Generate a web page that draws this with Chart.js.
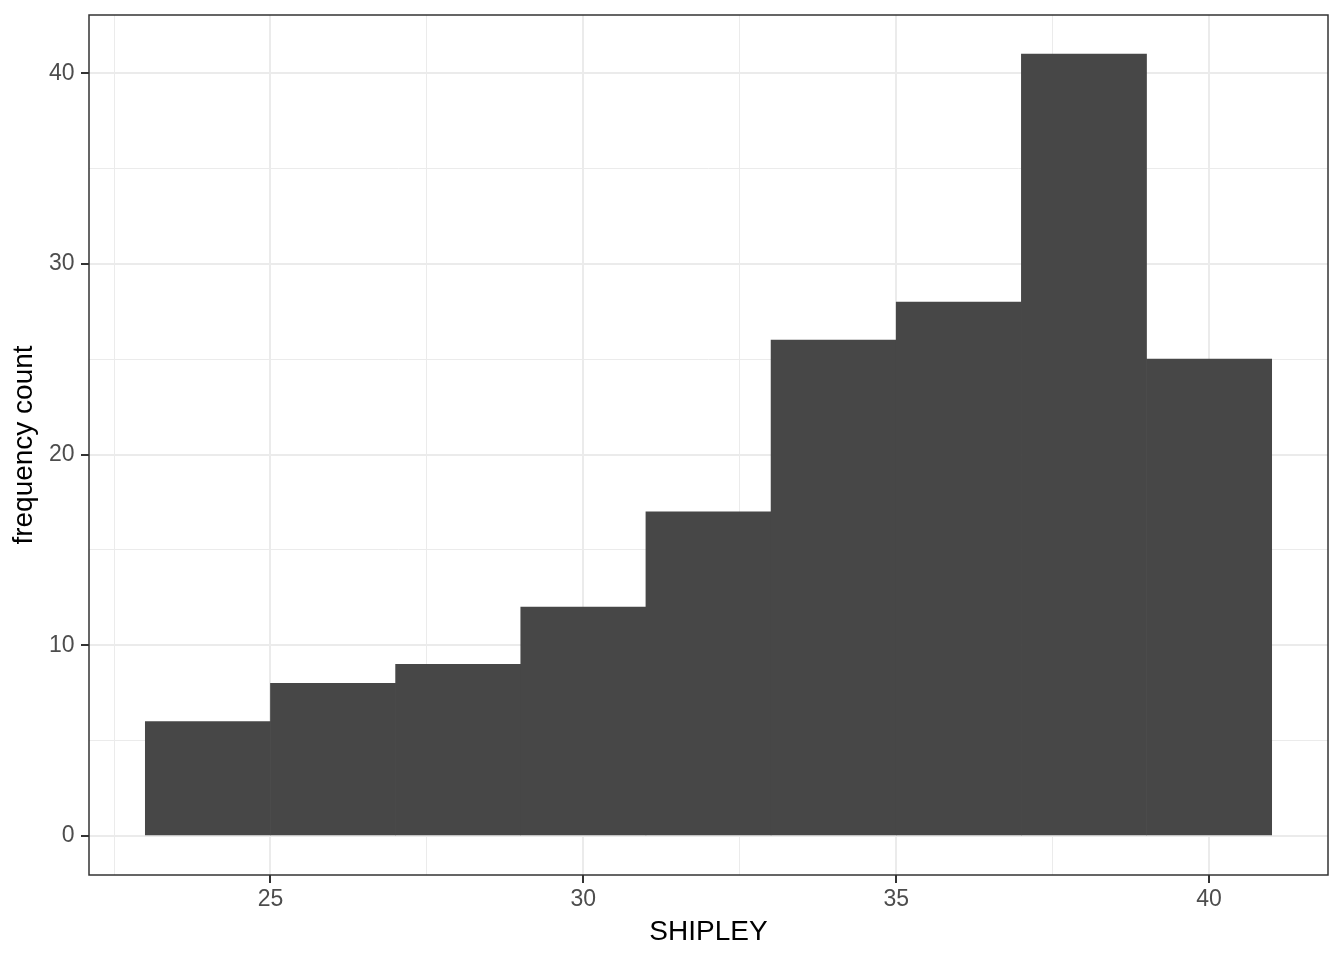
<!DOCTYPE html>
<html>
<head>
<meta charset="utf-8">
<script src="https://cdn.jsdelivr.net/npm/chart.js@4.4.1/dist/chart.umd.min.js"></script>
<style>
  html, body { margin: 0; padding: 0; background: #ffffff; }
  #wrap { width: 1344px; height: 960px; }
</style>
</head>
<body>
<div id="wrap"><canvas id="histChart" width="1344" height="960"></canvas></div>
<script>
// histogram of SHIPLEY, bins of width 2 from 23 to 41
const binCentres = [24, 26, 28, 30, 32, 34, 36, 38, 40];
const counts = [6, 8, 9, 12, 17, 26, 28, 41, 25];

const xBreaks = [25, 30, 35, 40];
const xMinor = [22.5, 27.5, 32.5, 37.5];
const yBreaks = [0, 10, 20, 30, 40];
const yMinor = [5, 15, 25, 35];

const FONT = "'Liberation Sans', Arial, Helvetica, sans-serif";

function buildTicks(major, minor) {
    return major.concat(minor).sort((a, b) => a - b).map(v => ({ value: v }));
}

// ggplot-style panel border drawn on top
const panelBorder = {
    id: 'panelBorder',
    afterDraw(chart) {
        const { ctx, chartArea: a } = chart;
        ctx.save();
        ctx.strokeStyle = '#333333';
        ctx.lineWidth = 1.5;
        ctx.strokeRect(a.left, a.top, a.right - a.left, a.bottom - a.top);
        ctx.restore();
    }
};

function gridOpts(major) {
    return {
        offset: false,
        color: '#ebebeb',
        lineWidth: c => major.includes(c.tick.value) ? 2 : 1,
        tickColor: c => major.includes(c.tick.value) ? '#333333' : 'rgba(0,0,0,0)',
        tickWidth: 2,
        tickLength: 8
    };
}

new Chart(document.getElementById('histChart'), {
    type: 'bar',
    data: {
        datasets: [{
            data: binCentres.map((x, i) => ({ x: x, y: counts[i] })),
            backgroundColor: '#474747',
            borderWidth: 0,
            barPercentage: 1,
            categoryPercentage: 1
        }]
    },
    options: {
        responsive: false,
        animation: false,
        layout: { padding: { top: 15, right: 16, left: 0, bottom: 0 } },
        plugins: { legend: { display: false }, tooltip: { enabled: false } },
        scales: {
            x: {
                type: 'linear',
                offset: false,
                min: 22.1,
                max: 41.9,
                afterBuildTicks: s => { s.ticks = buildTicks(xBreaks, xMinor); },
                afterFit: s => { s.height = 85; s.paddingLeft = 0; s.paddingRight = 0; },
                border: { display: false },
                grid: gridOpts(xBreaks),
                ticks: {
                    color: '#4d4d4d',
                    padding: 2.5,
                    maxRotation: 0,
                    autoSkip: false,
                    font: { family: FONT, size: 23 },
                    callback: v => xBreaks.includes(v) ? String(v) : ''
                },
                title: {
                    display: true,
                    text: 'SHIPLEY',
                    color: '#000000',
                    font: { family: FONT, size: 28, lineHeight: 1 },
                    padding: { top: 0, bottom: 14 }
                }
            },
            y: {
                min: -2.05,
                max: 43.05,
                afterBuildTicks: s => { s.ticks = buildTicks(yBreaks, yMinor); },
                afterFit: s => { s.width = 89; s.paddingTop = 0; s.paddingBottom = 0; },
                border: { display: false },
                grid: gridOpts(yBreaks),
                ticks: {
                    color: '#4d4d4d',
                    padding: 6.5,
                    autoSkip: false,
                    font: { family: FONT, size: 23 },
                    callback: v => yBreaks.includes(v) ? String(v) : ''
                },
                title: {
                    display: true,
                    text: 'frequency count',
                    color: '#000000',
                    font: { family: FONT, size: 28, lineHeight: 1 },
                    padding: { top: 10, bottom: 0 }
                }
            }
        }
    },
    plugins: [panelBorder]
});
</script>
</body>
</html>
